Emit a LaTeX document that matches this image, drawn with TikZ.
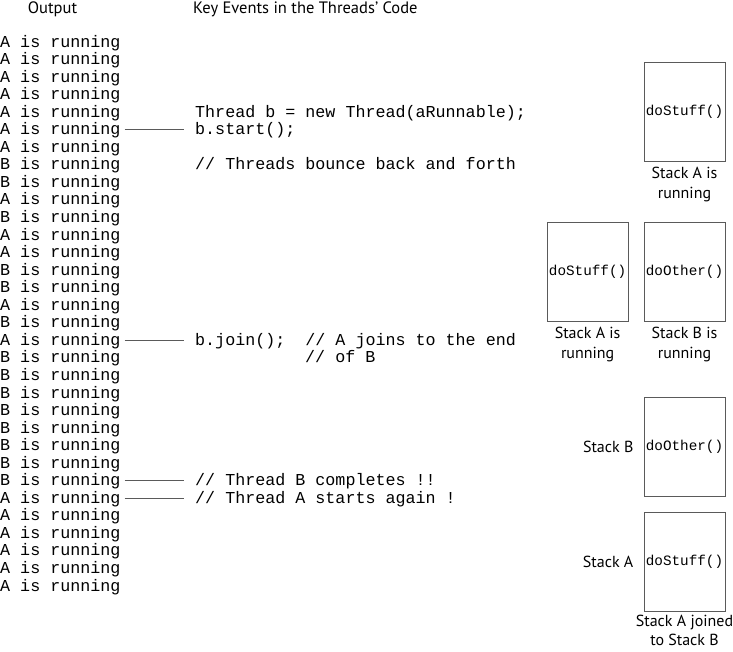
\documentclass[tikz,border=0pt]{standalone}
\usepackage{fontspec}
\setmainfont{PT Sans}
\setmonofont{Liberation Mono}
\usepackage{tikz}
\usetikzlibrary{positioning}
\definecolor{lineGray}{HTML}{5A5A5A}

\tikzset{
  outline/.style={font=\ttfamily\fontsize{16.7}{17.5}\selectfont,inner sep=0pt,
    text height=12pt,text depth=2pt,anchor=base west},
  codeline/.style={outline},
  stackbox/.style={draw=lineGray,line width=0.9pt,minimum width=81pt,minimum height=99pt,
    inner sep=0pt,font=\ttfamily\fontsize{14.3}{15}\selectfont},
  stacklabel/.style={font=\fontsize{16}{20}\selectfont,align=center,inner sep=0pt},
  heading/.style={font=\fontsize{16.5}{18}\selectfont,inner sep=0pt},
  tie/.style={draw=lineGray,line width=0.8pt,shorten <=4pt,shorten >=11pt}
}

\begin{document}
\begin{tikzpicture}[x=1pt,y=-1pt]
    \useasboundingbox (0,0) rectangle (733,651);
    % column headings
    \node[heading,anchor=base] (outHead) at (52.5,13) {Output};
    \node[heading,anchor=base west] (codeHead) at (193,13) {Key Events in the Threads' Code};
    % printed output
    \foreach \who [count=\i] in {A,A,A,A,A,A,A,B,B,A,B,A,A,B,B,A,B,A,B,B,B,B,B,B,B,B,A,A,A,A,A,A}
      \node[outline] (out\i) at (0,{47+(\i-1)*17.55}) {\who\ is running};
    % key events
    \coordinate (codecol) at (195,0);
    \coordinate (notecol) at (305,0);
    \node[codeline] (newThread) at (codecol |- out5.base) {Thread b = new Thread(aRunnable);};
    \node[codeline] (start) at (codecol |- out6.base) {b.start();};
    \node[codeline] (bounce) at (codecol |- out8.base) {// Threads bounce back and forth};
    \node[codeline] (join) at (codecol |- out18.base) {b.join();\ \ // A joins to the end};
    \node[codeline] (joinNote) at (notecol |- out19.base) {// of B};
    \node[codeline] (doneB) at (codecol |- out26.base) {// Thread B completes !!};
    \node[codeline] (againA) at (codecol |- out27.base) {// Thread A starts again !};
    \draw[tie] (out6.east) -- (start.west);
    \draw[tie] (out18.east) -- (join.west);
    \draw[tie] (out26.east) -- (doneB.west);
    \draw[tie] (out27.east) -- (againA.west);
    % stacks
    \node[stackbox] (runA) at (684.5,111.5) {doStuff()};
    \node[stacklabel,below=5pt of runA] (runALabel) {Stack A is\\running};
    \node[stackbox] (bothB) at (684.5,271.5) {doOther()};
    \node[stackbox,left=15pt of bothB] (bothA) {doStuff()};
    \node[stacklabel,below=5pt of bothA] (bothALabel) {Stack A is\\running};
    \node[stacklabel,below=5pt of bothB] (bothBLabel) {Stack B is\\running};
    \node[stackbox] (joinB) at (684.5,447) {doOther()};
    \node[stackbox,below=15pt of joinB] (joinA) {doStuff()};
    \node[stacklabel,left=10pt of joinB] (joinBLabel) {Stack B};
    \node[stacklabel,left=10pt of joinA] (joinALabel) {Stack A};
    \node[stacklabel,below=3pt of joinA,font=\fontsize{16}{19}\selectfont] (joinedLabel) {Stack A joined\\to Stack B};
\end{tikzpicture}
\end{document}
